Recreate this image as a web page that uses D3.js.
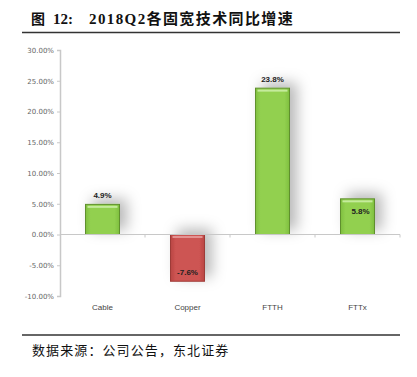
<!DOCTYPE html>
<html><head><meta charset="utf-8">
<script src="https://cdn.jsdelivr.net/npm/d3@7"></script>
<style>body{margin:0;background:#fff}svg{display:block}</style>
</head><body>
<script>
const categories = ["Cable", "Copper", "FTTH", "FTTx"];
const values = [4.9, -7.6, 23.8, 5.8];
const valueLabels = ["4.9%", "-7.6%", "23.8%", "5.8%"];
const labelPlacement = ["above", "insideBottom", "above", "insideTop"];
const yTicks = [-10, -5, 0, 5, 10, 15, 20, 25, 30];

const W = 417, H = 377;
const svg = d3.select("body").append("svg").attr("width", W).attr("height", H);
const defs = svg.append("defs");

function grad(id, c0, c1) {
  const g = defs.append("linearGradient").attr("id", id).attr("x1", 0).attr("x2", 1).attr("y1", 0).attr("y2", 0);
  g.append("stop").attr("offset", "0%").attr("stop-color", c1);
  g.append("stop").attr("offset", "15%").attr("stop-color", c0);
  g.append("stop").attr("offset", "85%").attr("stop-color", c0);
  g.append("stop").attr("offset", "100%").attr("stop-color", c1);
}
grad("gGreen", "#92d050", "#7fbf3e");
grad("gRed", "#cd5452", "#b94643");
const f = defs.append("filter").attr("id", "shadow").attr("x", "-80%").attr("y", "-80%").attr("width", "260%").attr("height", "260%");
f.append("feDropShadow").attr("dx", 7).attr("dy", -5).attr("stdDeviation", 7).attr("flood-color", "#000").attr("flood-opacity", 0.28);

// Title
const tf = "'Liberation Serif','Noto Sans CJK SC',serif";
svg.append("text").attr("x", 31).attr("y", 24).attr("font-family", "'Noto Sans CJK SC'").attr("font-weight", "bold").attr("font-size", 14).attr("fill", "#111").text("图");
svg.append("text").attr("x", 53).attr("y", 24).attr("font-family", tf).attr("font-weight", "bold").attr("font-size", 15).attr("fill", "#111").text("12:");
svg.append("text").attr("x", 89).attr("y", 24).attr("font-family", tf).attr("font-weight", "bold").attr("font-size", 15).attr("letter-spacing", 1.4).attr("fill", "#111").text("2018Q2各固宽技术同比增速");
svg.append("line").attr("x1", 22).attr("x2", 400).attr("y1", 32.5).attr("y2", 32.5).attr("stroke", "#333").attr("stroke-width", 1.5);

// Scales
const x = d3.scaleBand().domain(categories).range([60, 400]).paddingInner(0.6).paddingOuter(0.3);
const y = d3.scaleLinear().domain([-10, 30]).range([296, 50]);

// Y axis
const yAxis = d3.axisLeft(y).tickValues(yTicks).tickSize(3).tickFormat(d => d.toFixed(2) + "%");
const ya = svg.append("g").attr("transform", "translate(60,0)").call(yAxis);
ya.select(".domain").attr("stroke", "#c8c8c8").attr("stroke-width", 1.5);
ya.selectAll(".tick line").attr("stroke", "#c8c8c8");
ya.selectAll(".tick text").attr("font-family", "'DejaVu Sans'").attr("font-size", 7).attr("fill", "#666").attr("x", -6);

// Bars
const bars = svg.append("g");
categories.forEach((c, i) => {
  const v = values[i];
  const y0 = y(Math.max(0, v)), y1 = y(Math.min(0, v));
  const pos = v >= 0;
  bars.append("rect").attr("x", x(c)).attr("y", y0).attr("width", x.bandwidth()).attr("height", y1 - y0)
    .attr("fill", pos ? "url(#gGreen)" : "url(#gRed)")
    .attr("stroke", pos ? "#5f8f2e" : "#9e3a37").attr("stroke-width", 1)
    .attr("filter", "url(#shadow)");
  // top highlight
  bars.append("rect").attr("x", x(c) + 2).attr("y", y0 + 1.5).attr("width", x.bandwidth() - 4).attr("height", 2)
    .attr("fill", pos ? "#c5eb9c" : "#e39392");
});

// X axis
const xa = svg.append("g").attr("transform", `translate(0,${y(0)})`);
xa.append("line").attr("x1", 60).attr("x2", 400).attr("stroke", "#c8c8c8").attr("stroke-width", 1.2);
const step = x.step();
categories.forEach((c, i) => {
  const tx = x(c) + x.bandwidth() / 2 + step / 2;
  xa.append("line").attr("x1", tx).attr("x2", tx).attr("y1", 0).attr("y2", 3).attr("stroke", "#c8c8c8");
});
svg.append("g").selectAll("text").data(categories).join("text")
  .attr("x", d => x(d) + x.bandwidth() / 2).attr("y", 310)
  .attr("text-anchor", "middle").attr("font-family", "'Liberation Sans'").attr("font-size", 8).attr("fill", "#444")
  .text(d => d);

// Data labels
svg.append("g").selectAll("text").data(categories).join("text")
  .attr("x", (d, i) => x(d) + x.bandwidth() / 2 + (labelPlacement[i] === "insideTop" ? 3 : 0))
  .attr("y", (d, i) => {
    const v = values[i];
    if (labelPlacement[i] === "above") return y(v) - 6;
    if (labelPlacement[i] === "insideBottom") return y(v) - 6;
    return y(v) + 15;
  })
  .attr("text-anchor", "middle").attr("font-family", "'Liberation Sans'").attr("font-weight", "bold").attr("font-size", 8).attr("fill", "#222")
  .text((d, i) => valueLabels[i]);

// Footer
svg.append("line").attr("x1", 22).attr("x2", 400).attr("y1", 335).attr("y2", 335).attr("stroke", "#333").attr("stroke-width", 1.5);
svg.append("text").attr("x", 32).attr("y", 355).attr("font-family", "'Noto Sans CJK SC'").attr("font-size", 13).attr("letter-spacing", 1.1).attr("fill", "#111").text("数据来源：公司公告，东北证券");
</script>
</body></html>
